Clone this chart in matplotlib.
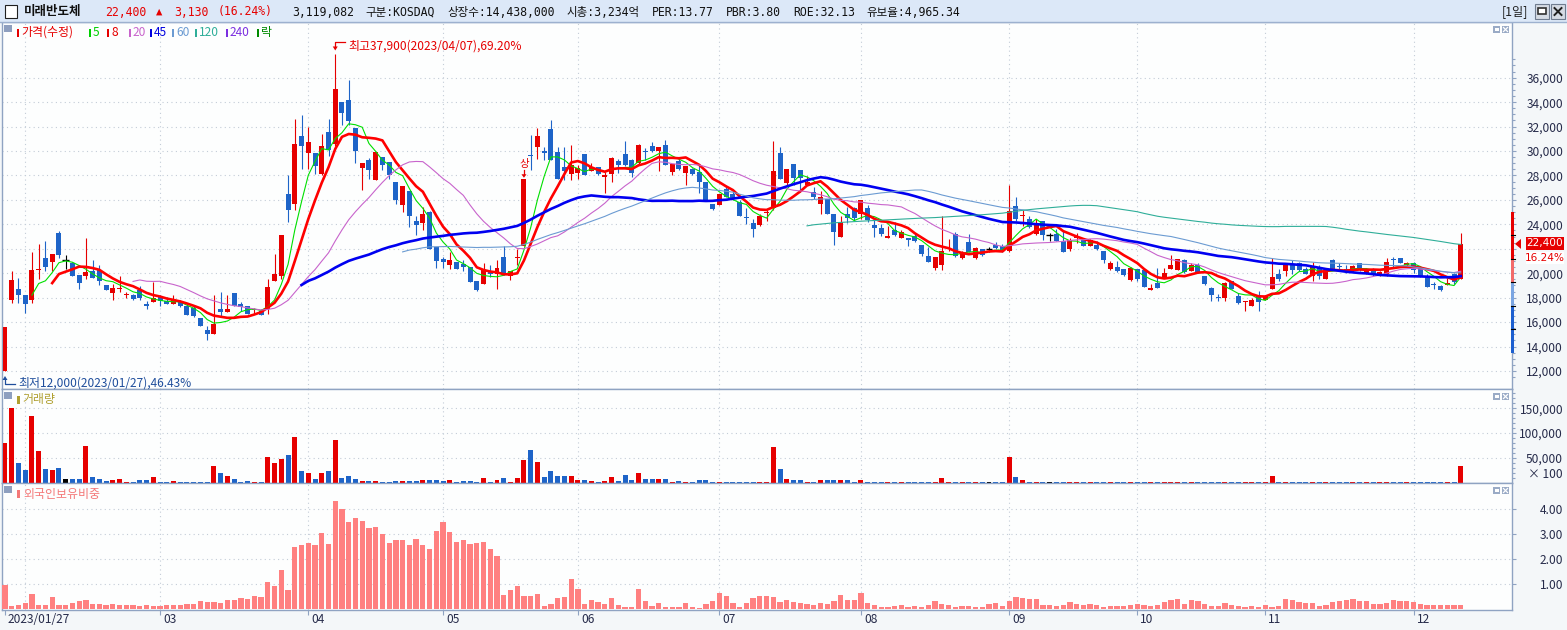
import matplotlib.pyplot as plt
import matplotlib.transforms as mtransforms
from matplotlib.patches import Rectangle, Polygon
from matplotlib.lines import Line2D
from matplotlib.ticker import FixedLocator, FuncFormatter
import numpy as np
import pandas as pd

plt.rcParams['font.family'] = ['Noto Sans CJK KR', 'DejaVu Sans']

# ---------------- data ----------------
opens = [
    12000, 17850, 18700, 18250, 17850, 20250, 21250, 20950, 23300, 21050,
    20850, 19850, 19800, 20150, 20300, 19050, 18350, 18750, 18200, 18250,
    18600, 17450, 17650, 18100, 17750, 17500, 17700, 17300, 17150, 16350,
    15350, 15050, 17050, 16800, 18400, 17450, 17350, 16980, 16950, 17050,
    19400, 19800, 26500, 25650, 31200, 29850, 29850, 28150, 31550, 30600,
    34050, 34200, 31900, 28650, 29300, 27650, 29550, 29100, 27450, 25550,
    26700, 24300, 24100, 25000, 22150, 21150, 20700, 20900, 20750, 20550,
    19350, 19100, 20200, 19900, 21300, 19800, 21250, 22250, 29650, 30350,
    30000, 31800, 29950, 28700, 28100, 28200, 29750, 28350, 28700, 27850,
    28100, 29200, 29750, 29250, 29000, 29950, 30450, 30000, 30500, 28250,
    29200, 28200, 28500, 28300, 27450, 25700, 25550, 26900, 26500, 25850,
    24600, 24100, 23950, 24950, 25350, 29800, 27400, 28900, 28450, 27250,
    26650, 25700, 26100, 24850, 23000, 24850, 25300, 24850, 25300, 23950,
    23700, 22900, 23550, 22900, 22900, 23050, 22350, 21450, 20400, 20700,
    22000, 23250, 21250, 22550, 21250, 22000, 22000, 22350, 22200, 21800,
    25500, 24700, 24400, 23250, 24300, 23100, 23250, 22650, 21950, 22900,
    22700, 22200, 22350, 21800, 20350, 20550, 20350, 19450, 20350, 20250,
    18650, 19200, 19650, 20350, 20300, 21100, 20150, 20650, 19750, 18800,
    18000, 18000, 19350, 18150, 17650, 17350, 18200, 17850, 18700, 19950,
    20150, 20700, 20800, 20350, 19800, 20550, 19550, 21050, 20550, 20350,
    20150, 20800, 19950, 20350, 19800, 19950, 21100, 21250, 20650, 20850,
    20400, 19700, 19050, 18950, 19000, 19950, 19500,
]
highs = [
    15600, 20200, 19600, 18250, 21700, 22400, 22600, 21600, 23450, 21500,
    20900, 19850, 22900, 21050, 20650, 19050, 19100, 19750, 18450, 18300,
    18950, 17750, 19300, 18200, 18050, 18200, 17850, 17300, 17350, 16350,
    15700, 18200, 18450, 18200, 18400, 17650, 17350, 17150, 17050, 19550,
    21600, 23100, 28000, 32600, 32950, 32000, 29850, 31400, 32600, 37900,
    34050, 35800, 31900, 29050, 29450, 29900, 29550, 29100, 27450, 27100,
    26700, 24700, 25450, 25100, 22150, 21350, 21700, 20900, 21100, 20550,
    19350, 20850, 20700, 21050, 22200, 20200, 22000, 27690, 31350, 31850,
    30350, 32500, 30300, 30350, 30500, 28850, 29750, 29000, 28700, 28250,
    29550, 29350, 30850, 29350, 30550, 30250, 30700, 30300, 30900, 28950,
    29550, 28750, 28600, 28850, 27450, 25700, 26500, 27100, 26750, 26000,
    25300, 24450, 24850, 25150, 30800, 30350, 28550, 28950, 28450, 27950,
    27050, 26700, 26100, 24850, 24700, 25400, 25400, 26000, 25550, 24450,
    24050, 23850, 24200, 23500, 22900, 23250, 22350, 22150, 21300, 24700,
    22800, 23350, 21850, 23200, 22150, 22000, 22150, 22550, 22400, 27250,
    26250, 25150, 24700, 24450, 24300, 23300, 23600, 23500, 22900, 23300,
    22750, 22800, 22600, 21800, 21000, 21000, 20350, 20500, 20350, 20250,
    19150, 20450, 20450, 21500, 21200, 21200, 20800, 20800, 19750, 18850,
    18300, 19300, 19400, 18400, 17700, 17950, 18550, 18200, 21250, 20350,
    20850, 21050, 20900, 20500, 20900, 20700, 20300, 21150, 20800, 20650,
    20650, 20850, 20400, 20400, 20150, 21250, 21300, 21250, 20950, 20900,
    20500, 19900, 19300, 19050, 19600, 20050, 23300,
]
lows = [
    12000, 17600, 17600, 16750, 17600, 19500, 20150, 20150, 21250, 20350,
    19750, 18700, 19550, 19600, 19000, 18650, 17850, 18450, 17950, 17850,
    17850, 17050, 17650, 17350, 17450, 17500, 17200, 16550, 16400, 15700,
    14500, 15050, 16400, 16800, 17300, 16950, 16700, 16680, 16550, 16700,
    19400, 19550, 24200, 25150, 28550, 28550, 28150, 28000, 29600, 30400,
    32150, 32100, 29050, 26800, 27750, 27600, 28450, 27750, 25650, 25050,
    23800, 23100, 23550, 22000, 20450, 20450, 20350, 20350, 20150, 19300,
    18550, 19100, 19700, 18700, 19850, 19450, 20650, 22250, 28450, 29350,
    29250, 29250, 27700, 27650, 27650, 27750, 28000, 28350, 28050, 26550,
    27500, 28200, 28750, 27850, 28850, 29250, 29950, 28350, 28850, 28000,
    28450, 27250, 28050, 26550, 26000, 25200, 25550, 26200, 26000, 24700,
    24000, 23000, 23900, 24300, 25200, 27750, 27200, 27200, 26650, 27200,
    26100, 24850, 24850, 22350, 23000, 24100, 24300, 24450, 24200, 23000,
    23050, 22900, 23050, 22900, 22200, 22550, 21450, 20900, 20300, 20300,
    21850, 21300, 21150, 21700, 21150, 21450, 21750, 22000, 21750, 21750,
    24300, 23850, 23700, 23100, 22700, 22600, 22600, 21750, 21850, 22500,
    22200, 22200, 21900, 20850, 20300, 20100, 19800, 19400, 19400, 18900,
    18650, 18800, 19650, 20350, 20300, 20050, 20150, 20050, 19050, 17700,
    17700, 17700, 18700, 17500, 16950, 17300, 16950, 17800, 18700, 19400,
    19750, 19950, 20150, 19900, 19400, 19500, 19550, 20300, 20150, 20050,
    20100, 20150, 19900, 19800, 19800, 19800, 20400, 20800, 20500, 20050,
    19700, 18850, 18700, 18550, 19000, 19150, 19500,
]
closes = [
    15600, 19450, 18250, 17450, 20300, 20350, 20550, 21600, 21500, 21050,
    19800, 19200, 20100, 19600, 19400, 18650, 18800, 18800, 18250, 17900,
    18000, 17350, 17950, 17700, 17500, 17850, 17300, 16550, 16500, 15700,
    15000, 15850, 16800, 17100, 17300, 17200, 16700, 17030, 16550, 18850,
    19950, 23100, 25200, 30600, 30450, 30750, 28800, 30400, 30050, 35100,
    33150, 32450, 30000, 29050, 28450, 29900, 28850, 28050, 26000, 27100,
    24650, 23950, 24850, 22000, 21000, 20950, 21100, 20350, 20550, 19300,
    18650, 20250, 19950, 20400, 19900, 20200, 21300, 27690, 29600, 31250,
    29800, 29250, 27700, 28350, 28850, 28650, 28050, 28700, 28100, 28050,
    29400, 28850, 28850, 28200, 30500, 29900, 30000, 30300, 28850, 28950,
    28550, 28750, 28100, 27450, 26000, 25250, 26500, 26250, 26150, 24700,
    24550, 23600, 24700, 25000, 28350, 27750, 28550, 27800, 27800, 27500,
    26200, 26250, 24850, 23400, 24200, 24550, 24550, 26000, 24350, 23700,
    23250, 23050, 23100, 23350, 22750, 22600, 21550, 20950, 21300, 21850,
    22050, 21400, 21600, 21750, 22100, 21500, 22000, 22100, 21800, 25100,
    24450, 24750, 23800, 24050, 23100, 23100, 22600, 21750, 22700, 22950,
    22200, 22750, 22000, 21050, 20850, 20150, 19850, 20450, 19550, 18900,
    18800, 18800, 20050, 20700, 21150, 20100, 20700, 20100, 19100, 18250,
    17950, 19200, 18700, 17600, 17700, 17850, 17650, 18100, 19700, 19550,
    20850, 20300, 20250, 19950, 20550, 19750, 20250, 20350, 20500, 20150,
    20600, 20300, 20350, 19900, 20100, 20900, 21050, 20800, 20850, 20300,
    19750, 18900, 19000, 18600, 19200, 19270, 22400,
]
# volume in units of 100 shares (axis shows "x 100")
volume_100 = [
    79800, 149600, 39900, 25300, 133700, 63800, 27300, 25300, 29900, 7300,
    7300, 7300, 73800, 11300, 7300, 4000, 5300, 7300, 2000, 2000,
    5300, 5300, 11300, 2000, 2000, 4000, 2000, 2000, 2000, 2000,
    2000, 33300, 20000, 13300, 7300, 2000, 4000, 2000, 2000, 51900,
    39900, 47200, 55200, 91800, 23300, 20000, 7300, 20000, 23300, 85100,
    10000, 13300, 7300, 4000, 4000, 4000, 2000, 2000, 3300, 3300,
    4000, 4000, 5300, 5300, 5300, 4000, 5300, 2000, 3300, 3300,
    2000, 10000, 2000, 5300, 10000, 2000, 10000, 45200, 65200, 41900,
    11300, 23300, 13300, 13300, 13300, 5300, 5300, 3300, 2000, 4000,
    11300, 3300, 15300, 5300, 20000, 7300, 7300, 7300, 7300, 2000,
    3300, 2000, 2000, 4700, 4700, 2000, 2000, 2000, 2000, 2000,
    2000, 2000, 2000, 2000, 72700, 26700, 6700, 4700, 4700, 2000,
    2000, 4700, 4700, 4700, 4700, 4700, 2000, 4700, 2000, 2000,
    2000, 2000, 2000, 2000, 2000, 2000, 2000, 2000, 2000, 8700,
    2000, 2000, 2000, 2000, 2000, 2000, 2000, 2000, 2000, 52700,
    10700, 4700, 2000, 2000, 2000, 2000, 2000, 2000, 2000, 2000,
    2000, 2000, 2000, 2000, 2000, 2000, 2000, 2000, 2000, 2000,
    2000, 2000, 2000, 2000, 2000, 2000, 2000, 2000, 2000, 2000,
    2000, 2000, 2000, 2000, 2000, 2000, 2000, 2000, 12700, 2000,
    2000, 2000, 2000, 2000, 2000, 2000, 2000, 2000, 2000, 2000,
    2000, 2000, 2000, 2000, 2000, 2000, 2000, 2000, 2000, 2000,
    2000, 2000, 2000, 2000, 2000, 2000, 32700,
]
foreign_pct = [
    0.97, 0.13, 0.16, 0.24, 0.60, 0.16, 0.16, 0.48, 0.16, 0.16,
    0.24, 0.33, 0.36, 0.20, 0.20, 0.16, 0.20, 0.16, 0.16, 0.16,
    0.12, 0.16, 0.12, 0.12, 0.16, 0.16, 0.16, 0.20, 0.20, 0.33,
    0.30, 0.28, 0.24, 0.36, 0.36, 0.44, 0.40, 0.53, 0.48, 1.09,
    0.93, 1.56, 0.76, 2.48, 2.57, 2.64, 2.57, 3.04, 2.60, 4.32,
    4.00, 3.48, 3.65, 3.52, 3.25, 3.29, 3.00, 2.64, 2.79, 2.76,
    2.57, 2.80, 2.56, 2.40, 3.12, 3.48, 3.08, 2.68, 2.76, 2.60,
    2.64, 2.68, 2.40, 2.12, 0.56, 0.76, 0.92, 0.52, 0.52, 0.60,
    0.12, 0.20, 0.44, 0.48, 1.20, 0.80, 0.20, 0.36, 0.28, 0.20,
    0.44, 0.16, 0.08, 0.08, 0.80, 0.32, 0.12, 0.24, 0.08, 0.08,
    0.08, 0.24, 0.09, 0.05, 0.21, 0.33, 0.65, 0.53, 0.25, 0.09,
    0.25, 0.45, 0.53, 0.53, 0.49, 0.29, 0.37, 0.29, 0.25, 0.21,
    0.17, 0.25, 0.21, 0.33, 0.57, 0.37, 0.37, 0.65, 0.25, 0.17,
    0.09, 0.09, 0.13, 0.17, 0.09, 0.13, 0.09, 0.17, 0.33, 0.21,
    0.17, 0.09, 0.13, 0.13, 0.09, 0.09, 0.21, 0.25, 0.13, 0.33,
    0.49, 0.45, 0.41, 0.41, 0.17, 0.17, 0.13, 0.17, 0.29, 0.21,
    0.17, 0.21, 0.17, 0.09, 0.13, 0.13, 0.13, 0.17, 0.21, 0.17,
    0.13, 0.17, 0.29, 0.37, 0.41, 0.21, 0.37, 0.33, 0.21, 0.13,
    0.13, 0.25, 0.17, 0.13, 0.09, 0.13, 0.09, 0.17, 0.09, 0.13,
    0.41, 0.37, 0.29, 0.25, 0.25, 0.13, 0.17, 0.29, 0.33, 0.37,
    0.41, 0.33, 0.33, 0.21, 0.21, 0.25, 0.37, 0.33, 0.33, 0.29,
    0.21, 0.17, 0.17, 0.17, 0.17, 0.17, 0.17,
]
krx_holidays = ['2023-03-01', '2023-05-01', '2023-05-05', '2023-05-29', '2023-06-06',
                '2023-08-15', '2023-09-28', '2023-09-29', '2023-10-02', '2023-10-03',
                '2023-10-09']
ma_periods = [5, 8, 20, 45, 60, 120, 240]
stock_name = '미래반도체'
header_items = ['3,119,082', '구분:KOSDAQ', '상장수:14,438,000', '시총:3,234억',
                'PER:13.77', 'PBR:3.80', 'ROE:32.13', '유보율:4,965.34']

dates = pd.bdate_range('2023-01-27', '2023-12-12', freq='C', holidays=krx_holidays)

# ---------------- figure ----------------
W, H = 1567, 630
RED = '#e60000'
BLUE = '#1e64c8'
FRAME = '#8fa3c2'
LBL = '#262b4a'
GRID = '#c3ccd7'
MONO = ['DejaVu Sans Mono', 'Noto Sans CJK KR']

fig = plt.figure(figsize=(W / 100, H / 100), dpi=100)
fig.patch.set_facecolor('#f4f7f9')
pix = mtransforms.Affine2D().scale(1.0 / W, -1.0 / H).translate(0, 1) + fig.transFigure


def box(x0, y0, x1, y1):
    return [x0 / W, 1 - y1 / H, (x1 - x0) / W, (y1 - y0) / H]


def ptext(x, y, s, color=LBL, size=8.6, ha='left', va='center', z=7, **kw):
    return fig.text(x, y, s, transform=pix, color=color, fontsize=size, ha=ha, va=va,
                    zorder=z, **kw)


def prect(x, y, w, h, fc, ec='none', lw=0, z=6):
    fig.add_artist(Rectangle((x, y), w, h, transform=pix, facecolor=fc,
                             edgecolor=ec, linewidth=lw, zorder=z))


def pline(xs, ys, color, lw=1.0, z=6):
    fig.add_artist(Line2D(xs, ys, transform=pix, color=color, linewidth=lw, zorder=z))


def ppoly(pts, color, z=6):
    fig.add_artist(Polygon(pts, closed=True, transform=pix, facecolor=color,
                           edgecolor='none', zorder=z))


ax_p = fig.add_axes(box(2, 22, 1512, 389))
ax_v = fig.add_axes(box(2, 389, 1512, 483))
ax_f = fig.add_axes(box(2, 483, 1512, 610))

o = np.array(opens, float)
c = np.array(closes, float)
h = np.maximum(np.array(highs, float), np.maximum(o, c))
l = np.minimum(np.array(lows, float), np.minimum(o, c))
n = len(c)
x = np.arange(n)
last = c[-1]
prev = c[-2]

col = np.where(c > o, RED, np.where(c < o, BLUE, '#000000'))
flat = c == o

# candles
ax_p.vlines(x, l, h, colors=col, linewidth=0.8, zorder=2)
body = np.maximum(np.abs(c - o), 80)
ax_p.bar(x[~flat], body[~flat], bottom=np.minimum(o, c)[~flat], width=0.74,
         color=col[~flat], linewidth=0, zorder=3)
ax_p.hlines(c[flat], x[flat] - 0.5, x[flat] + 0.5, colors=col[flat], linewidth=1.0, zorder=3)

# moving averages
ma_style = {5: ('#00e000', 0.8), 8: ('#ff0000', 1.9), 20: ('#c864cc', 0.8),
            45: ('#0000f0', 1.9), 60: ('#6b9bd2', 0.8), 120: ('#2fae99', 0.8),
            240: ('#7b2fe0', 0.8)}
closes_s = pd.Series(c)
for p in ma_periods:
    colr, lw = ma_style[p]
    ax_p.plot(x, closes_s.rolling(p).mean(), color=colr, linewidth=lw, zorder=4)

# volume and foreign holdings
ax_v.bar(x, volume_100, width=0.74, color=col, linewidth=0, zorder=3)
ax_f.bar(x, foreign_pct, width=0.78, color='#ff8080', linewidth=0, zorder=3)

# limits
for ax in (ax_p, ax_v, ax_f):
    ax.set_xlim(-0.445, 223.6)
    ax.set_facecolor('#fdfefe')
    for sp in ax.spines.values():
        sp.set_color(FRAME)
        sp.set_linewidth(1.0)
ax_p.set_ylim(10527, 40558)
ax_v.set_ylim(-600, 188600)
ax_f.set_ylim(-0.03, 5.05)

# y ticks on right (the price label under the current-price box is hidden)
ax_p.yaxis.set_major_locator(FixedLocator(list(range(12000, 36001, 2000))))
ax_p.yaxis.set_minor_locator(FixedLocator([v for v in range(11500, 37501, 500) if v % 2000]))
ax_p.yaxis.set_major_formatter(FuncFormatter(lambda v, _: '' if abs(v - last) < 1300 else f'{v:,.0f}'))
ax_v.yaxis.set_major_locator(FixedLocator([50000, 100000, 150000]))
ax_v.yaxis.set_minor_locator(FixedLocator([v for v in range(10000, 180001, 10000) if v % 50000]))
ax_v.yaxis.set_major_formatter(FuncFormatter(lambda v, _: f'{v:,.0f}'))
ax_f.yaxis.set_major_locator(FixedLocator([1, 2, 3, 4]))
ax_f.yaxis.set_major_formatter(FuncFormatter(lambda v, _: f'{v:.2f}'))

for ax in (ax_p, ax_v, ax_f):
    ax.tick_params(axis='y', which='both', left=False, right=True, labelleft=False,
                   labelright=True, direction='out', color=FRAME, labelcolor=LBL,
                   labelsize=8.6, pad=33.6)
    ax.tick_params(axis='y', which='major', length=3.2, width=0.8)
    ax.tick_params(axis='y', which='minor', length=1.8, width=0.8)
    plt.setp(ax.get_yticklabels(), ha='right')
    ax.grid(axis='y', which='major', color=GRID, linestyle=(0, (1, 3)), linewidth=0.8, zorder=0)
    ax.set_axisbelow(True)

# month grid and date labels
month_idx = [i for i in range(1, n) if dates[i].month != dates[i - 1].month]
for ax in (ax_p, ax_v, ax_f):
    for m in month_idx:
        ax.axvline(m, color=GRID, linestyle=(0, (1, 3)), linewidth=0.8, zorder=0)
tick_idx = [0] + [m for m in month_idx if dates[m].month != 2]
tick_lab = [dates[0].strftime('%Y/%m/%d')] + [dates[m].strftime('%m') for m in tick_idx[1:]]
for ax in (ax_p, ax_v):
    ax.set_xticks([])
ax_f.set_xticks(tick_idx)
ax_f.tick_params(axis='x', length=3.6, width=0.8, color=FRAME, labelbottom=False)
date_tr = mtransforms.blended_transform_factory(ax_f.transData, ax_f.transAxes) + \
    mtransforms.ScaledTranslation(3 / 100, -3 / 100, fig.dpi_scale_trans)
for i, lab in zip(tick_idx, tick_lab):
    ax_f.text(i, 0, lab, transform=date_tr, ha='left', va='top', fontsize=8.6,
              color=LBL, clip_on=False)


def to_pix(ax, xv, yv):
    xd, yd = ax.transData.transform((xv, yv))
    return xd, H - yd


# high / low annotations
ih = int(np.argmax(h))
px, py = to_pix(ax_p, ih, h[ih])
pline([px + 10, px, px], [py - 12, py - 12, py - 7], RED, 0.9)
ppoly([(px - 2.5, py - 8), (px + 2.5, py - 8), (px, py - 4)], RED)
ptext(px + 13, py - 8, f'최고{h[ih]:,.0f}({dates[ih]:%Y/%m/%d}),{(h[ih] - last) / last * 100:.2f}%', RED)

il = int(np.argmin(l))
px, py = to_pix(ax_p, il, l[il])
low_c = '#1f4e9c'
pline([px + 10, px, px], [py + 13, py + 13, py + 8], low_c, 0.9)
ppoly([(px - 2.5, py + 9), (px + 2.5, py + 9), (px, py + 5)], low_c)
ptext(px + 13, py + 12, f'최저{l[il]:,.0f}({dates[il]:%Y/%m/%d}),{(last - l[il]) / last * 100:.2f}%', low_c)

# limit-up marks
for i in range(1, n):
    if c[i] / c[i - 1] >= 1.295:
        px, py = to_pix(ax_p, i, h[i])
        ptext(px, py - 15, '상', RED, size=7.5, ha='center')
        pline([px, px], [py - 9, py - 4], RED, 0.9)
        ppoly([(px - 2.5, py - 5), (px + 2.5, py - 5), (px, py - 1.5)], RED)

# daily price-limit band on the price axis
band = [(0.7, 0.9, '#1c5fd0'), (0.9, 1.0, '#7aa5e2'), (1.0, 1.1, '#f26a6a'), (1.1, 1.3, RED)]
for lo_r, hi_r, bc in band:
    _, y_top = to_pix(ax_p, 0, prev * hi_r)
    _, y_bot = to_pix(ax_p, 0, prev * lo_r)
    prect(1511, y_top, 3, y_bot - y_top, bc, z=7)
for r in (0.8, 0.9, 1.0, 1.1, 1.2):
    _, yy = to_pix(ax_p, 0, prev * r)
    pline([1510.5, 1514.5], [yy, yy], '#000000', 0.8, z=8)
_, yl = to_pix(ax_p, 0, last)
ppoly([(1515, yl), (1521, yl - 5), (1521, yl + 5)], RED, z=8)
prect(1526, yl - 7, 38, 13, RED, z=8)
ptext(1545, yl - 0.5, f'{last:,.0f}', '#ffffff', size=7.6, ha='center', z=9,
      fontfamily='DejaVu Sans')
prect(1526, yl + 8, 38, 12, '#ffffff', z=8)
ptext(1545, yl + 14.5, f'{(last / prev - 1) * 100:.2f}%', RED, size=7.6, ha='center', z=9,
      fontfamily='DejaVu Sans')
ptext(1563, 475, '× 100', LBL, ha='right')

# panel decorations
for y0 in (25, 392, 486):
    prect(4, y0, 8, 7, '#8e9fbf')
    prect(1493, y0 + 1, 7, 7, '#9aabc6')
    prect(1494.5, y0 + 3, 4, 2.5, '#ffffff', z=7)
    prect(1502, y0 + 1, 7, 7, '#9aabc6')
    pline([1503.5, 1507.5], [y0 + 2.5, y0 + 6.5], '#ffffff', 0.9, z=7)
    pline([1503.5, 1507.5], [y0 + 6.5, y0 + 2.5], '#ffffff', 0.9, z=7)

legend_items = [('가격(수정)', '#e60000', 17), ('5', '#00d000', 89), ('8', '#e60000', 107),
                ('20', '#c864cc', 129), ('45', '#0000e0', 150), ('60', '#6b9bd2', 172),
                ('120', '#2fae99', 195), ('240', '#7b2fe0', 226), ('락', '#008a00', 257)]
for lab, lc, lx in legend_items:
    prect(lx, 29, 2, 8, lc)
    ptext(lx + 4, 32.5, lab, lc)

prect(17, 396, 2.5, 8, '#b0a030')
ptext(22, 400, '거래량', '#b0a030')
prect(17, 490, 2.5, 8, '#f47878')
ptext(23, 494.5, '외국인보유비중', '#f47878')

# header bar
prect(0, 0, W, 22, '#dce8f8')
pline([0, W], [22, 22], '#9db1cf', 1.0)
prect(5, 4.5, 12, 13, '#ffffff', ec='#202020', lw=0.8, z=7)
ptext(24, 12, stock_name, '#111111', size=9.0, fontweight='bold')
chg = last - prev
ptext(105, 12, f'{last:,.0f}', RED, size=8.3, fontfamily=MONO)
ptext(156, 12, '▲', RED, size=7.6, fontfamily=MONO)
ptext(174, 12, f'{chg:,.0f}', RED, size=8.3, fontfamily=MONO)
ptext(218, 12, f'({chg / prev * 100:.2f}%)', RED, size=8.3, fontfamily=MONO)
renderer = fig.canvas.get_renderer()
hx = 292
for item in header_items:
    t = ptext(hx, 12, item, '#111111', size=8.3, fontfamily=MONO)
    hx += t.get_window_extent(renderer).width + 12
ptext(1502, 12, '[1일]', '#202020', size=8.8)
for bx in (1535, 1551):
    prect(bx, 4, 14, 15, '#d5dbe4', ec='#6f7c90', lw=0.8, z=7)
prect(1538, 8, 8, 6, '#ffffff', ec='#303030', lw=1.2, z=8)
pline([1554.5, 1561.5], [8, 15], '#202020', 1.4, z=8)
pline([1554.5, 1561.5], [15, 8], '#202020', 1.4, z=8)

fig.savefig('out.png', dpi=100, facecolor=fig.get_facecolor())
